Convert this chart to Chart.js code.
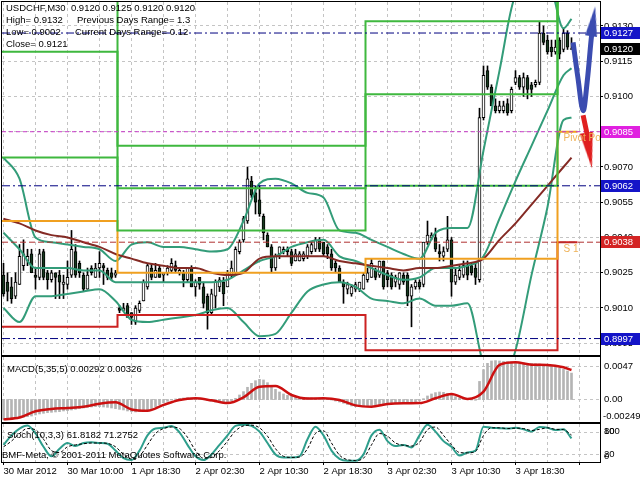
<!DOCTYPE html>
<html>
<head>
<meta charset="utf-8">
<title>USDCHF,M30</title>
<script src="https://cdn.jsdelivr.net/npm/chart.js@4.4.1/dist/chart.umd.min.js"></script>
<style>
  body { margin: 0; background: #fff; }
  #wrap { position: relative; width: 640px; height: 480px; overflow: hidden; background: #fff; }
  #wrap canvas { position: absolute; left: 0; }
</style>
</head>
<body>
<div id="wrap">
  <canvas id="priceChart" width="640" height="357" style="top:0"></canvas>
  <canvas id="macdChart" width="640" height="68" style="top:356px"></canvas>
  <canvas id="stochChart" width="640" height="57" style="top:423px"></canvas>
</div>
<script>
// ---- data ----
var timeLabels = ['30 Mar 2012', '30 Mar 10:00', '1 Apr 18:30', '2 Apr 02:30', '2 Apr 10:30',
                  '2 Apr 18:30', '3 Apr 02:30', '3 Apr 10:30', '3 Apr 18:30'];
var priceTicks = [0.8995, 0.9010, 0.9025, 0.9040, 0.9055, 0.9070, 0.9085, 0.9100, 0.9115, 0.9130];

var opens = [
  0.9024,0.9021,0.9019,0.9015,0.9020,0.9028,0.9030,0.9033,0.9024,0.9023,
  0.9034,0.9025,0.9022,0.9025,0.9024,0.9020,0.9020,0.9024,0.9034,0.9029,
  0.9024,0.9018,0.9027,0.9023,0.9027,0.9028,0.9026,0.9025,0.9024,0.9010,
  0.9009,0.9011,0.9008,0.9004,0.9009,0.9013,0.9019,0.9027,0.9023,0.9027,
  0.9024,0.9025,0.9026,0.9028,0.9025,0.9025,0.9022,0.9027,0.9019,0.9023,
  0.9019,0.9015,0.9008,0.9015,0.9019,0.9021,0.9019,0.9024,0.9025,0.9034,
  0.9039,0.9047,0.9064,0.9059,0.9056,0.9049,0.9041,0.9036,0.9027,0.9033,
  0.9034,0.9035,0.9034,0.9030,0.9030,0.9031,0.9032,0.9034,0.9035,0.9039,
  0.9038,0.9036,0.9033,0.9029,0.9027,0.9021,0.9018,0.9016,0.9018,0.9018,
  0.9018,0.9022,0.9023,0.9026,0.9024,0.9030,0.9025,0.9024,0.9021,0.9020,
  0.9024,0.9024,0.9015,0.9019,0.9021,0.9020,0.9038,0.9040,0.9040,0.9034,
  0.9032,0.9035,0.9039,0.9021,0.9023,0.9024,0.9028,0.9028,0.9027,0.9022,
  0.9091,0.9111,0.9104,0.9096,0.9094,0.9094,0.9097,0.9094,0.9106,0.9108,
  0.9104,0.9108,0.9105,0.9105,0.9106,0.9127,0.9124,0.9121,0.9119,0.9124,
  0.9120,0.9127,0.9120];
var highs = [
  0.9029,0.9025,0.9023,0.9025,0.9037,0.9039,0.9035,0.9035,0.9027,0.9035,
  0.9035,0.9026,0.9026,0.9025,0.9026,0.9024,0.9030,0.9043,0.9037,0.9030,
  0.9025,0.9027,0.9028,0.9029,0.9034,0.9029,0.9027,0.9027,0.9026,0.9011,
  0.9012,0.9012,0.9008,0.9011,0.9013,0.9022,0.9029,0.9029,0.9029,0.9028,
  0.9025,0.9028,0.9031,0.9030,0.9027,0.9026,0.9027,0.9028,0.9022,0.9023,
  0.9021,0.9016,0.9018,0.9022,0.9023,0.9023,0.9026,0.9030,0.9036,0.9039,
  0.9049,0.9070,0.9066,0.9062,0.9062,0.9050,0.9042,0.9037,0.9033,0.9036,
  0.9036,0.9036,0.9035,0.9035,0.9034,0.9034,0.9037,0.9038,0.9040,0.9040,
  0.9038,0.9037,0.9035,0.9030,0.9028,0.9022,0.9021,0.9020,0.9021,0.9021,
  0.9025,0.9027,0.9031,0.9027,0.9030,0.9030,0.9026,0.9025,0.9024,0.9025,
  0.9025,0.9025,0.9020,0.9022,0.9022,0.9038,0.9047,0.9042,0.9044,0.9037,
  0.9036,0.9049,0.9040,0.9027,0.9028,0.9030,0.9030,0.9029,0.9029,0.9095,
  0.9113,0.9113,0.9105,0.9099,0.9098,0.9098,0.9099,0.9104,0.9111,0.9109,
  0.9110,0.9109,0.9106,0.9107,0.9132,0.9130,0.9126,0.9124,0.9124,0.9125,
  0.9129,0.9128,0.9125];
var lows = [
  0.9015,0.9013,0.9012,0.9014,0.9020,0.9026,0.9028,0.9025,0.9018,0.9022,
  0.9022,0.9018,0.9021,0.9014,0.9014,0.9014,0.9018,0.9023,0.9023,0.9023,
  0.9017,0.9018,0.9024,0.9023,0.9023,0.9020,0.9022,0.9022,0.9023,0.9008,
  0.9009,0.9006,0.9003,0.9003,0.9008,0.9013,0.9018,0.9022,0.9023,0.9023,
  0.9021,0.9024,0.9025,0.9025,0.9024,0.9019,0.9021,0.9019,0.9015,0.9018,
  0.9010,0.9001,0.9007,0.9010,0.9017,0.9011,0.9019,0.9023,0.9024,0.9033,
  0.9038,0.9046,0.9057,0.9050,0.9049,0.9039,0.9036,0.9025,0.9026,0.9031,
  0.9033,0.9032,0.9028,0.9030,0.9030,0.9030,0.9031,0.9033,0.9034,0.9034,
  0.9032,0.9031,0.9026,0.9025,0.9021,0.9012,0.9016,0.9015,0.9017,0.9017,
  0.9018,0.9021,0.9023,0.9022,0.9023,0.9018,0.9019,0.9018,0.9019,0.9018,
  0.9020,0.9011,0.9002,0.9018,0.9018,0.9019,0.9037,0.9039,0.9034,0.9030,
  0.9030,0.9034,0.9015,0.9020,0.9022,0.9023,0.9022,0.9024,0.9020,0.9021,
  0.9090,0.9103,0.9096,0.9093,0.9093,0.9093,0.9092,0.9093,0.9105,0.9103,
  0.9100,0.9099,0.9100,0.9104,0.9105,0.9122,0.9118,0.9117,0.9118,0.9116,
  0.9119,0.9120,0.9120];
var closes = [
  0.9016,0.9017,0.9014,0.9021,0.9032,0.9033,0.9032,0.9025,0.9023,0.9033,
  0.9023,0.9022,0.9025,0.9023,0.9021,0.9021,0.9023,0.9035,0.9024,0.9025,
  0.9018,0.9024,0.9025,0.9027,0.9029,0.9027,0.9023,0.9023,0.9025,0.9009,
  0.9010,0.9006,0.9006,0.9010,0.9012,0.9021,0.9028,0.9023,0.9026,0.9023,
  0.9025,0.9027,0.9029,0.9026,0.9026,0.9022,0.9027,0.9019,0.9021,0.9020,
  0.9012,0.9008,0.9016,0.9021,0.9022,0.9016,0.9025,0.9027,0.9035,0.9038,
  0.9048,0.9065,0.9058,0.9055,0.9050,0.9042,0.9036,0.9027,0.9032,0.9036,
  0.9035,0.9034,0.9029,0.9033,0.9033,0.9033,0.9036,0.9037,0.9039,0.9035,
  0.9033,0.9033,0.9027,0.9027,0.9021,0.9019,0.9020,0.9019,0.9020,0.9021,
  0.9024,0.9025,0.9029,0.9023,0.9030,0.9019,0.9022,0.9019,0.9023,0.9025,
  0.9021,0.9015,0.9019,0.9021,0.9019,0.9038,0.9041,0.9041,0.9035,0.9033,
  0.9034,0.9039,0.9021,0.9024,0.9026,0.9028,0.9024,0.9025,0.9023,0.9091,
  0.9109,0.9104,0.9096,0.9094,0.9096,0.9096,0.9093,0.9103,0.9108,0.9104,
  0.9108,0.9103,0.9103,0.9106,0.9127,0.9123,0.9119,0.9119,0.9121,0.9118,
  0.9127,0.9121,0.9120];

// indicator lines, read every 4th bar (last one at bar 142)
var bbUpper = [0.9074,0.9065,0.9040,0.9038,0.9037,0.9036,0.9035,0.9030,0.9037,0.9038,
               0.9036,0.9036,0.9035,0.9034,0.9035,0.9047,0.9063,0.9065,0.9063,0.9059,
               0.9057,0.9043,0.9042,0.9039,0.9036,0.9033,0.9031,0.9042,0.9044,0.9044,
               0.9077,0.9111,0.9143,0.9147,0.9150,0.9129,0.9133];
var bbMiddle = [0.9042,0.9035,0.9027,0.9027,0.9027,0.9026,0.9026,0.9021,0.9021,0.9021,
                0.9021,0.9021,0.9021,0.9021,0.9022,0.9026,0.9030,0.9032,0.9036,0.9038,
                0.9039,0.9032,0.9030,0.9027,0.9024,0.9022,0.9023,0.9027,0.9027,0.9028,
                0.9032,0.9048,0.9064,0.9079,0.9094,0.9109,0.9112];
var bbLower = [0.9010,0.9004,0.9015,0.9015,0.9016,0.9017,0.9018,0.9013,0.9005,0.9004,
               0.9005,0.9006,0.9007,0.9009,0.9010,0.9004,0.8998,0.8999,0.9008,0.9017,
               0.9020,0.9021,0.9019,0.9014,0.9013,0.9012,0.9014,0.9011,0.9011,0.9012,
               0.8986,0.8976,0.8992,0.9024,0.9053,0.9090,0.9091];
var maLine = [0.9048,0.9046,0.9043,0.9041,0.9040,0.9038,0.9036,0.9033,0.9031,0.9029,
              0.9028,0.9027,0.9027,0.9025,0.9024,0.9025,0.9031,0.9032,0.9032,0.9032,
              0.9032,0.9030,0.9029,0.9028,0.9027,0.9026,0.9027,0.9027,0.9028,0.9029,
              0.9031,0.9039,0.9046,0.9054,0.9062,0.9070,0.9074];

// daily pivot levels (classic), one value per day
var dayStarts = [-1, 28.5, 90.5, 138.5];
var dayEnd = 143.5;
var pivotP  = [0.9047, 0.9025, 0.9031, 0.9085];
var pivotS1 = [0.9002, 0.9007, 0.8992, 0.9038];
var pivotR1 = [0.9074, 0.9043, 0.9062, 0.9168];
var pivotR2 = [0.9119, 0.9061, 0.9101, 0.9215];
var pivotR3 = [0.9146, 0.9079, 0.9132, 0.9262];
var pivotTags = ['Pivot Point', 'S 1'];

var levelValues = [0.9127, 0.9085, 0.9062, 0.9038, 0.8997];
var bidPrice = 0.9120;

var blueArrowX = [142.4, 143.6, 144.9, 145.9, 146.9, 147.4];
var blueArrowY = [0.9123, 0.9108, 0.9094, 0.9106, 0.9124, 0.9132];
var redArrowX = [144.9, 145.9, 146.4];
var redArrowY = [0.9092, 0.9084, 0.9077];

var macdMain = [
  -0.00219,-0.00219,-0.00212,-0.00208,-0.00205,-0.00197,-0.00190,-0.00183,-0.00171,-0.00160,
  -0.00153,-0.00146,-0.00142,-0.00138,-0.00135,-0.00127,-0.00124,-0.00116,-0.00109,-0.00101,
  -0.00094,-0.00087,-0.00083,-0.00079,-0.00079,-0.00083,-0.00087,-0.00094,-0.00101,-0.00109,
  -0.00116,-0.00127,-0.00135,-0.00138,-0.00135,-0.00127,-0.00116,-0.00101,-0.00079,-0.00057,
  -0.00035,-0.00020,-0.00006,0.00006,0.00013,0.00017,0.00020,0.00017,0.00013,0.00006,
  -0.00002,-0.00013,-0.00020,-0.00028,-0.00035,-0.00039,-0.00031,-0.00013,0.00013,0.00050,
  0.00087,0.00135,0.00179,0.00208,0.00223,0.00216,0.00186,0.00149,0.00112,0.00083,
  0.00061,0.00046,0.00035,0.00028,0.00024,0.00020,0.00020,0.00017,0.00017,0.00013,
  0.00009,0.00002,-0.00006,-0.00017,-0.00028,-0.00042,-0.00057,-0.00072,-0.00079,-0.00079,
  -0.00076,-0.00072,-0.00065,-0.00061,-0.00057,-0.00053,-0.00050,-0.00046,-0.00046,-0.00042,
  -0.00042,-0.00039,-0.00039,-0.00028,-0.00013,0.00009,0.00039,0.00061,0.00076,0.00083,
  0.00079,0.00068,0.00050,0.00031,0.00017,0.00006,-0.00002,-0.00006,-0.00009,0.00200,
  0.00330,0.00400,0.00426,0.00430,0.00426,0.00422,0.00419,0.00415,0.00411,0.00407,
  0.00404,0.00400,0.00400,0.00396,0.00393,0.00389,0.00385,0.00378,0.00363,0.00348,
  0.00334,0.00315,0.00292];
var macdSignal = [
  -0.00220,-0.00200,-0.00130,-0.00105,-0.00094,-0.00080,-0.00046,-0.00030,-0.00110,-0.00125,
  -0.00060,-0.00005,0.00013,-0.00009,-0.00040,0.00024,0.00142,0.00150,0.00050,0.00010,
  0.00013,-0.00006,-0.00065,-0.00079,-0.00050,-0.00042,-0.00040,0.00013,0.00061,0.00006,
  0.00087,0.00382,0.00411,0.00385,0.00382,0.00356,0.00326];

// stochastic, read every 2nd bar
var stochMain = [45,70,88,96,75,40,15,35,50,42, 50,52,50,48,30,10,5,30,70,88,
                 90,95,78,45,15,5,20,45,70,95, 98,95,80,50,20,12,12,15,60,93,
                 70,30,8,3,3,20,70,85,55,42, 45,38,70,98,80,55,40,17,25,30,
                 93,90,89,88,90,86,80,92,90,84, 86,62];
var stochSignal = [40,55,75,88,85,60,30,25,40,45, 48,50,50,49,40,20,8,15,45,75,
                   88,92,88,65,30,10,12,30,55,82, 95,97,90,68,35,15,12,13,35,75,
                   82,50,18,6,4,10,45,75,68,50, 44,42,52,85,92,70,45,25,24,28,
                   70,90,90,88,89,88,83,86,90,86, 85,71];

var infoLines = ['USDCHF,M30  0.9120 0.9125 0.9120 0.9120', 'High= 0.9132', 'Low= 0.9002', 'Close= 0.9121'];
var rangeLines = ['Previous Days Range= 1.3', 'Current Days Range= 0.12'];
var macdTitle = 'MACD(5,35,5) 0.00292 0.00326';
var stochTitle = 'Stoch(10,3,3) 61.8182 71.2752';
var copyright = 'BMF-Meta, \u00a9 2001-2011 MetaQuotes Software Corp.';

// ---- chart setup ----
document.addEventListener("DOMContentLoaded", function() {
  var FONT = "'Liberation Sans', Arial, sans-serif";
  Chart.defaults.font.family = FONT;
  Chart.defaults.font.size = 9.5;
  Chart.defaults.color = '#000';

  var X_MIN = -0.375, X_MAX = 149.125;
  var GRID = '#c4c4c4';
  var gridBars = [];
  for (var b = 0; b <= 144; b += 8) gridBars.push(b);
  var bandBars = [];
  for (var k = 0; k < 36; k++) bandBars.push(k * 4);
  bandBars.push(142);
  var stochBars = [];
  for (var s = 0; s < 72; s++) stochBars.push(s * 2);

  function timeAxis(withLabels) {
    return {
      type: 'linear', min: X_MIN, max: X_MAX, offset: false,
      afterBuildTicks: function(sc) { sc.ticks = gridBars.map(function(v) { return {value: v}; }); },
      afterFit: function(sc) { sc.height = withLabels ? 18 : 0; sc.paddingLeft = 0; sc.paddingRight = 0; },
      grid: { offset: false, color: GRID, drawTicks: withLabels, tickLength: 3,
              tickColor: function(c) { return c.tick && c.tick.value % 16 === 0 ? '#000' : 'rgba(0,0,0,0)'; } },
      border: { display: false, dash: [3, 3] },
      ticks: { display: withLabels, autoSkip: false, maxRotation: 0, align: 'start', padding: 1,
               callback: function(v) { return v % 16 === 0 ? (timeLabels[v / 16] || '') : ''; } }
    };
  }
  function pts(xs, ys) { return ys.map(function(v, i) { return {x: xs[i], y: v}; }); }
  function steps(levels) {
    var out = dayStarts.map(function(d, i) { return {x: d, y: levels[i]}; });
    out.push({x: dayEnd, y: levels[levels.length - 1]});
    return out;
  }
  function hLine(v) { return [{x: X_MIN, y: v}, {x: X_MAX, y: v}]; }
  function line(label, data, color, width, extra) {
    var ds = { type: 'line', label: label, data: data, borderColor: color, borderWidth: width,
               pointRadius: 0, pointHoverRadius: 0, fill: false, order: 3 };
    for (var key in extra) ds[key] = extra[key];
    return ds;
  }
  function arrowHead(color, w, h, down) {
    var c = document.createElement('canvas');
    c.width = w; c.height = h;
    var g = c.getContext('2d');
    g.fillStyle = color;
    g.beginPath();
    if (down) { g.moveTo(0, 0); g.lineTo(w, 0); g.lineTo(w / 2, h); }
    else { g.moveTo(w / 2, 0); g.lineTo(w, h); g.lineTo(0, h); }
    g.closePath(); g.fill();
    return c;
  }
  function frame(chart) {
    var a = chart.chartArea, ctx = chart.ctx;
    ctx.save();
    ctx.strokeStyle = '#000'; ctx.lineWidth = 1;
    ctx.strokeRect(a.left - 0.5, a.top - 0.5, a.right - a.left + 1, a.bottom - a.top + 1);
    ctx.restore();
  }
  function text(ctx, str, x, y, color) {
    ctx.fillStyle = color || '#000';
    ctx.fillText(str, x, y);
  }
  function dashedRow(chart, y) {
    var a = chart.chartArea, ctx = chart.ctx;
    ctx.save();
    ctx.strokeStyle = GRID; ctx.lineWidth = 1; ctx.setLineDash([3, 3]);
    ctx.beginPath(); ctx.moveTo(a.left, Math.round(y) + 0.5); ctx.lineTo(a.right, Math.round(y) + 0.5); ctx.stroke();
    ctx.restore();
  }
  var baseOptions = function(padding, scales) {
    return {
      responsive: false, animation: false, events: [],
      layout: { autoPadding: false, padding: padding },
      plugins: { legend: { display: false }, tooltip: { enabled: false } },
      scales: scales
    };
  };

  // candles
  var wickData = [], bodyData = [], bodyFill = [];
  for (var i = 0; i < opens.length; i++) {
    wickData.push({x: i, y: [lows[i], highs[i]]});
    bodyData.push({x: i, y: [Math.min(opens[i], closes[i]), Math.max(opens[i], closes[i])]});
    bodyFill.push(closes[i] >= opens[i] ? '#ffffff' : '#163a1e');
  }

  var levelStyles = [
    {color: '#000080', dash: [8, 3, 2, 3]},
    {color: '#c83cc8', dash: [4, 3]},
    {color: '#000080', dash: [8, 3, 2, 3]},
    {color: '#b03030', dash: [6, 3]},
    {color: '#000080', dash: [8, 3, 2, 3]}
  ];
  var levelBoxColors = ['#1414c8', '#e020e0', '#1414c8', '#d42424', '#1414c8'];

  var blueHead = arrowHead('#3b4cb0', 12, 30, false);
  var redHead = arrowHead('#e02020', 13, 36, true);

  var datasets = [];
  datasets.push(line('blue arrow', pts(blueArrowX, blueArrowY), '#3b4cb0', 5, {
    order: 0, tension: 0.35,
    pointRadius: function(c) { return c.dataIndex === blueArrowX.length - 1 ? 6 : 0; },
    pointStyle: blueHead, rotation: 8 }));
  datasets.push(line('red arrow', pts(redArrowX, redArrowY), '#e02020', 5, {
    order: 0,
    pointRadius: function(c) { return c.dataIndex === redArrowX.length - 1 ? 6 : 0; },
    pointStyle: redHead, rotation: -9 }));
  levelValues.forEach(function(v, n) {
    datasets.push(line('level ' + v, hLine(v), levelStyles[n].color, 1, {order: 1, borderDash: levelStyles[n].dash}));
  });
  [pivotR3, pivotR2, pivotR1].forEach(function(lv, n) {
    datasets.push(line('R' + (3 - n), steps(lv), '#3fb83f', 2, {order: 2, stepped: true}));
  });
  datasets.push(line('Pivot', steps(pivotP), '#f0a020', 2, {order: 2, stepped: true}));
  datasets.push(line('S1', steps(pivotS1), '#cc2222', 2, {order: 2, stepped: true}));
  datasets.push(line('MA', pts(bandBars, maLine), '#842a24', 2, {cubicInterpolationMode: 'monotone'}));
  datasets.push(line('BB upper', pts(bandBars, bbUpper), '#339c79', 2, {cubicInterpolationMode: 'monotone'}));
  datasets.push(line('BB middle', pts(bandBars, bbMiddle), '#339c79', 2, {cubicInterpolationMode: 'monotone'}));
  datasets.push(line('BB lower', pts(bandBars, bbLower), '#339c79', 2, {cubicInterpolationMode: 'monotone'}));
  datasets.push({ type: 'bar', label: 'body', data: bodyData, backgroundColor: bodyFill, borderColor: '#000',
                  borderWidth: 1, borderSkipped: false, barThickness: 3, minBarLength: 1, grouped: false, order: 5 });
  datasets.push({ type: 'bar', label: 'wick', data: wickData, backgroundColor: '#000',
                  barThickness: 1, grouped: false, order: 6 });

  var priceOverlay = {
    id: 'priceOverlay',
    afterDatasetsDraw: function(chart) {
      var a = chart.chartArea, ctx = chart.ctx, xs = chart.scales.x, ys = chart.scales.y;
      ctx.save();
      ctx.beginPath(); ctx.rect(a.left, a.top, a.right - a.left, a.bottom - a.top); ctx.clip();
      ctx.font = '10px ' + FONT; ctx.textBaseline = 'top'; ctx.textAlign = 'left';
      var tx = xs.getPixelForValue(dayStarts[3] + 1.5);
      text(ctx, pivotTags[0], tx, ys.getPixelForValue(pivotP[3]) + 2, '#efb35a');
      text(ctx, pivotTags[1], tx, ys.getPixelForValue(pivotS1[3]) + 2, '#efb35a');
      ctx.restore();
    },
    afterDraw: function(chart) {
      var a = chart.chartArea, ctx = chart.ctx, ys = chart.scales.y;
      frame(chart);
      ctx.save();
      ctx.font = '9.5px ' + FONT; ctx.textBaseline = 'middle'; ctx.textAlign = 'left';
      infoLines.forEach(function(t, n) { text(ctx, t, 6, 8 + n * 12); });
      text(ctx, rangeLines[0], 77, 20);
      text(ctx, rangeLines[1], 75, 32);
      var boxes = levelValues.map(function(v, n) { return {v: v, c: levelBoxColors[n]}; });
      boxes.push({v: bidPrice, c: '#000'});
      boxes.forEach(function(bx) {
        var y = Math.round(ys.getPixelForValue(bx.v));
        ctx.fillStyle = bx.c;
        ctx.fillRect(a.right + 1, y - 6, 39, 12);
        text(ctx, bx.v.toFixed(4), a.right + 4, y + 0.5, '#fff');
      });
      ctx.restore();
    }
  };

  new Chart(document.getElementById('priceChart'), {
    type: 'line',
    data: { datasets: datasets },
    options: baseOptions({ top: 2, bottom: 2, left: 2, right: 0 }, {
      x: timeAxis(false),
      y: {
        type: 'linear', position: 'right', min: 0.8990, max: 0.91402,
        afterBuildTicks: function(sc) { sc.ticks = priceTicks.map(function(v) { return {value: v}; }); },
        afterFit: function(sc) { sc.width = 40; sc.paddingTop = 0; sc.paddingBottom = 0; },
        grid: { color: GRID, drawTicks: true, tickLength: 3, tickColor: '#000' },
        border: { display: false, dash: [3, 3] },
        ticks: { padding: 1, callback: function(v) { return v.toFixed(4); } }
      }
    }),
    plugins: [priceOverlay]
  });

  // MACD window
  var macdOverlay = {
    id: 'macdOverlay',
    beforeDatasetsDraw: function(chart) {
      dashedRow(chart, chart.chartArea.top + 9);
      dashedRow(chart, chart.scales.y.getPixelForValue(0));
    },
    afterDraw: function(chart) {
      var a = chart.chartArea, ctx = chart.ctx;
      frame(chart);
      ctx.save();
      ctx.font = '9.5px ' + FONT; ctx.textBaseline = 'middle'; ctx.textAlign = 'left';
      text(ctx, macdTitle, 7, a.top + 12);
      text(ctx, '0.0047', a.right + 4, a.top + 9);
      text(ctx, '0.00', a.right + 4, chart.scales.y.getPixelForValue(0));
      text(ctx, '-0.00249', a.right + 3, a.bottom - 6);
      ctx.restore();
    }
  };
  new Chart(document.getElementById('macdChart'), {
    type: 'line',
    data: { datasets: [
      { type: 'line', data: pts(bandBars, macdSignal), borderColor: '#cc1010', borderWidth: 2.5,
        pointRadius: 0, cubicInterpolationMode: 'monotone', order: 0 },
      { type: 'bar', data: macdMain.map(function(v, n) { return {x: n, y: v}; }), backgroundColor: '#b4b4b4',
        barThickness: 2, grouped: false, order: 1 }
    ] },
    options: baseOptions({ top: 1, bottom: 2, left: 2, right: 40 }, {
      x: timeAxis(false), y: { display: false, min: -0.00249, max: 0.0047 }
    }),
    plugins: [macdOverlay]
  });

  // Stochastic window
  var stochOverlay = {
    id: 'stochOverlay',
    beforeDatasetsDraw: function(chart) {
      dashedRow(chart, chart.scales.y.getPixelForValue(80));
      dashedRow(chart, chart.scales.y.getPixelForValue(20));
    },
    afterDraw: function(chart) {
      var a = chart.chartArea, ctx = chart.ctx, ys = chart.scales.y;
      frame(chart);
      ctx.save();
      ctx.font = '9.5px ' + FONT; ctx.textBaseline = 'middle'; ctx.textAlign = 'left';
      text(ctx, stochTitle, 7, a.top + 11);
      text(ctx, copyright, 2, a.top + 31);
      text(ctx, '100', a.right + 4, a.top + 7);
      text(ctx, '80', a.right + 4, ys.getPixelForValue(80));
      text(ctx, '20', a.right + 4, ys.getPixelForValue(20));
      text(ctx, '0', a.right + 4, a.bottom - 6);
      ctx.restore();
    }
  };
  new Chart(document.getElementById('stochChart'), {
    type: 'line',
    data: { datasets: [
      { data: pts(stochBars, stochMain), borderColor: '#2e9e8c', borderWidth: 2, pointRadius: 0,
        cubicInterpolationMode: 'monotone', order: 1 },
      { data: pts(stochBars, stochSignal), borderColor: '#000', borderWidth: 1, borderDash: [3, 2],
        pointRadius: 0, cubicInterpolationMode: 'monotone', order: 0 }
    ] },
    options: baseOptions({ top: 1, bottom: 0, left: 2, right: 40 }, {
      x: timeAxis(true), y: { display: false, min: 0, max: 100 }
    }),
    plugins: [stochOverlay]
  });
});
</script>
</body>
</html>
